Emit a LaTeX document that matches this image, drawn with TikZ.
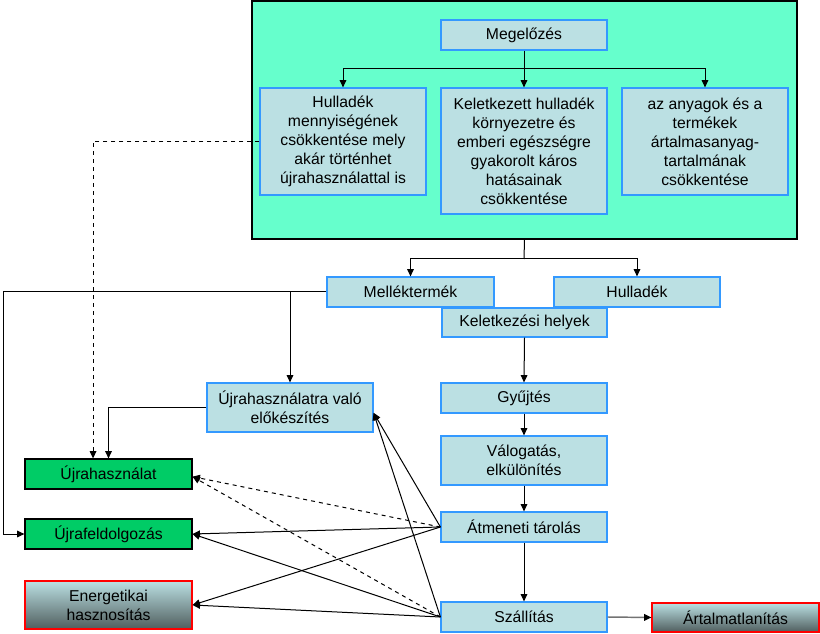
\documentclass[tikz,border=0pt]{standalone}
\usepackage{fontspec}
\setmainfont{Liberation Sans}
\usetikzlibrary{arrows.meta}
\definecolor{bigfill}{RGB}{102,255,204}
\definecolor{boxfill}{RGB}{187,224,227}
\definecolor{boxline}{RGB}{51,153,255}
\definecolor{grn}{RGB}{0,204,102}
\definecolor{dk}{RGB}{80,94,94}
\begin{document}
\begin{tikzpicture}[x=0.75pt,y=-0.75pt,
  font=\fontsize{11.8}{14.25}\selectfont,
  base/.style={line width=0.9pt, align=center, inner sep=0pt, minimum width=124.5pt, minimum height=22.5pt},
  bx/.style={base, draw=boxline, fill=boxfill},
  gbx/.style={base, draw=black, fill=grn},
  rbx/.style={base, draw=red, top color=boxfill, bottom color=dk},
  arr/.style={-{Triangle[length=5.5pt,width=5pt]}, line width=0.75pt},
]
\useasboundingbox (0,0) rectangle (820,634);
% big container
\node[draw=black, fill=bigfill, line width=0.9pt, minimum width=408.75pt, minimum height=178.5pt, inner sep=0pt] (big) at (524.5,120) {};
% top boxes
\node[bx] (meg) at (524,35) {Megelőzés};
\node[bx, minimum height=80.25pt] (a) at (343,141.5) {Hulladék\\mennyiségének\\csökkentése mely\\akár történhet\\újrahasználattal is};
\node[bx, minimum height=94.5pt] (b) at (524,151) {Keletkezett hulladék\\környezetre és\\emberi egészségre\\gyakorolt káros\\hatásainak\\csökkentése};
\node[bx, minimum height=80.25pt] (c) at (705,141.5) {az anyagok és a\\termékek\\ártalmasanyag-\\tartalmának\\csökkentése};
% middle
\node[bx, minimum width=125.25pt] (mell) at (410.5,292) {Melléktermék};
\node[bx] (hull) at (637,292) {Hulladék};
\node[bx, minimum width=123.75pt, minimum height=21.75pt] (kel) at (524.5,322.5) {Keletkezési helyek};
\node[bx] (gyu) at (524,398) {Gyűjtés};
\node[bx, minimum height=36.75pt] (val) at (524,460.5) {Válogatás,\\elkülönítés};
\node[bx] (atm) at (524,527) {Átmeneti tárolás};
\node[bx] (sza) at (524,617) {Szállítás};
\node[rbx, minimum width=125.25pt, minimum height=21.75pt] (art) at (735.5,617.5) {Ártalmatlanítás};
\node[bx, minimum height=36.75pt] (ujel) at (290,407.5) {Újrahasználatra való\\előkészítés};
\node[gbx, minimum width=125.25pt] (ujh) at (108.5,474) {Újrahasználat};
\node[gbx, minimum width=125.25pt] (ujf) at (108.5,534) {Újrafeldolgozás};
\node[rbx, minimum width=125.25pt, minimum height=36pt] (ene) at (108.5,605) {Energetikai\\hasznosítás};
% junctions
\coordinate (j1) at (524,69);
\coordinate (j2) at (524,259);
\coordinate (lft) at (3,292);
% connectors top
\draw[line width=0.75pt] (meg.south) -- (j1);
\draw[arr] (j1) -| (a.north);
\draw[arr] (j1) -- (b.north);
\draw[arr] (j1) -| (c.north);
\draw[line width=0.75pt] (big.south) -- (j2);
\draw[arr] (j2) -| (mell.north);
\draw[arr] (j2) -| (hull.north);
% left side
\draw[arr, dashed] (a.west) -| ([xshift=-11.6pt]ujh.north);
\draw[arr] (mell.west) -- (lft) |- (ujf.west);
\draw[arr] (ujel.north |- mell.west) -- (ujel.north);
\draw[arr] (ujel.west) -| (ujh.north);
% main chain
\draw[arr] (kel.south) -- (gyu.north);
\draw[arr] (gyu.south) -- (val.north);
\draw[arr] (val.south) -- (atm.north);
\draw[arr] (atm.south) -- (sza.north);
\draw[-{Triangle[length=5.5pt,width=5pt,color=black]}, line width=1.1pt, draw=black!55] (sza.east) -- (art.west);
% fan from Átmeneti tárolás
\draw[arr, dashed] (atm.west) -- ([yshift=-2pt]ujh.east);
\draw[arr] (atm.west) -- (ujf.east);
\draw[arr] (atm.west) -- (ene.east);
\draw[arr] (atm.west) -- ([yshift=-4pt]ujel.east);
% fan from Szállítás
\draw[arr, dashed] (sza.west) -- ([yshift=-2pt]ujh.east);
\draw[arr] (sza.west) -- (ujf.east);
\draw[arr] (sza.west) -- (ene.east);
\draw[arr] (sza.west) -- ([yshift=-4pt]ujel.east);
\end{tikzpicture}
\end{document}
